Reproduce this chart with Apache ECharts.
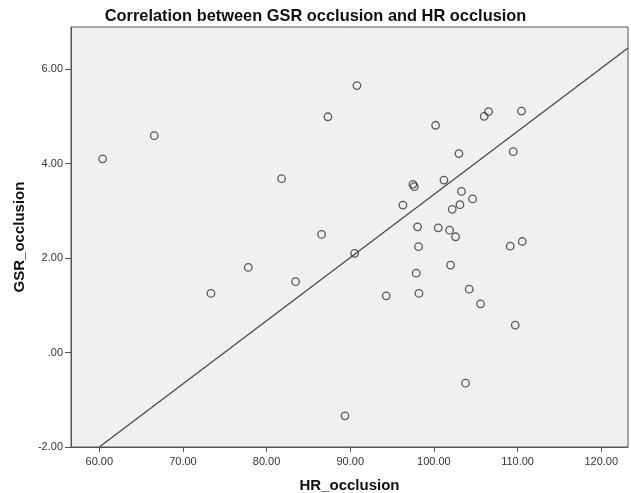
<!DOCTYPE html>
<html>
<head>
<meta charset="utf-8">
<script src="https://cdn.jsdelivr.net/npm/echarts@6/dist/echarts.min.js"></script>
<style>
html,body{margin:0;padding:0;background:#fff;}
#chart{width:631px;height:493px;}
</style>
</head>
<body>
<div id="chart"></div>
<script>
// HR_occlusion (x) values of each point
const hrOcclusion = [60.40, 66.57, 81.79, 90.80, 87.33, 100.20, 106.01, 106.53, 110.47, 102.99,
  109.48, 97.49, 97.65, 101.20, 96.30, 103.30, 104.62, 103.11, 102.19, 98.05,
  100.52, 101.87, 102.59, 86.57, 98.16, 109.12, 110.56, 90.52, 73.35, 77.81,
  83.46, 101.99, 97.89, 94.30, 98.21, 104.22, 105.57, 109.72, 103.78, 89.37];
// GSR_occlusion (y) values of each point
const gsrOcclusion = [4.10, 4.59, 3.68, 5.65, 4.99, 4.81, 5.00, 5.10, 5.11, 4.21,
  4.25, 3.56, 3.51, 3.65, 3.12, 3.41, 3.25, 3.13, 3.03, 2.66,
  2.64, 2.59, 2.45, 2.50, 2.24, 2.25, 2.35, 2.10, 1.25, 1.80,
  1.50, 1.85, 1.68, 1.20, 1.25, 1.34, 1.03, 0.58, -0.65, -1.34];
// reference line end points
const lineX = [60.0, 123.2];
const lineY = [-2.0, 6.445];
// tick values
const xTicks = [60, 70, 80, 90, 100, 110, 120];
const yTicks = [-2, 0, 2, 4, 6];

const points = hrOcclusion.map((x, i) => [x, gsrOcclusion[i]]);
const linePts = lineX.map((x, i) => [x, lineY[i]]);

const fmt = v => (Math.abs(v) < 1e-9 ? '.00' : Number(v).toFixed(2));
const font = 'Arial, "Liberation Sans", sans-serif';

const chart = echarts.init(document.getElementById('chart'), null, {renderer: 'canvas'});
chart.setOption({
  animation: false,
  backgroundColor: '#ffffff',
  title: {
    text: 'Correlation between GSR occlusion and HR occlusion',
    left: 'center',
    top: 3,
    textStyle: {fontFamily: font, fontSize: 16.4, fontWeight: 'bold', color: '#111'}
  },
  grid: {
    left: 71, right: 3, top: 27, bottom: 46,
    outerBoundsMode: 'none',
    containLabel: false,
    show: true, backgroundColor: '#f0f0f0', borderColor: '#555', borderWidth: 1
  },
  xAxis: {
    type: 'value',
    min: 56.62, max: 123.2,
    name: 'HR_occlusion',
    nameLocation: 'middle',
    nameGap: 31,
    nameTextStyle: {fontFamily: font, fontSize: 15, fontWeight: 'bold', color: '#111'},
    axisLine: {show: true, onZero: false, lineStyle: {color: '#555', width: 1}},
    axisTick: {show: true, length: 5, customValues: xTicks, lineStyle: {color: '#555'}},
    axisLabel: {customValues: xTicks, formatter: fmt, margin: 9,
      fontFamily: font, fontSize: 11, color: '#333'},
    splitLine: {show: false}
  },
  yAxis: {
    type: 'value',
    min: -2, max: 6.89,
    name: 'GSR_occlusion',
    nameLocation: 'middle',
    nameGap: 40,
    nameTextStyle: {fontFamily: font, fontSize: 15, fontWeight: 'bold', color: '#111'},
    axisLine: {show: true, onZero: false, lineStyle: {color: '#555', width: 1}},
    axisTick: {show: true, length: 6, customValues: yTicks, lineStyle: {color: '#555'}},
    axisLabel: {customValues: yTicks, formatter: fmt, margin: 8,
      fontFamily: font, fontSize: 11, color: '#333'},
    splitLine: {show: false}
  },
  series: [
    {
      type: 'line',
      data: linePts,
      symbol: 'none',
      lineStyle: {color: '#444', width: 1.2},
      silent: true,
      z: 1
    },
    {
      type: 'scatter',
      data: points,
      symbol: 'circle',
      symbolSize: 7.5,
      itemStyle: {color: 'rgba(0,0,0,0)', borderColor: '#333', borderWidth: 1.3},
      z: 2
    }
  ]
});
</script>
</body>
</html>
